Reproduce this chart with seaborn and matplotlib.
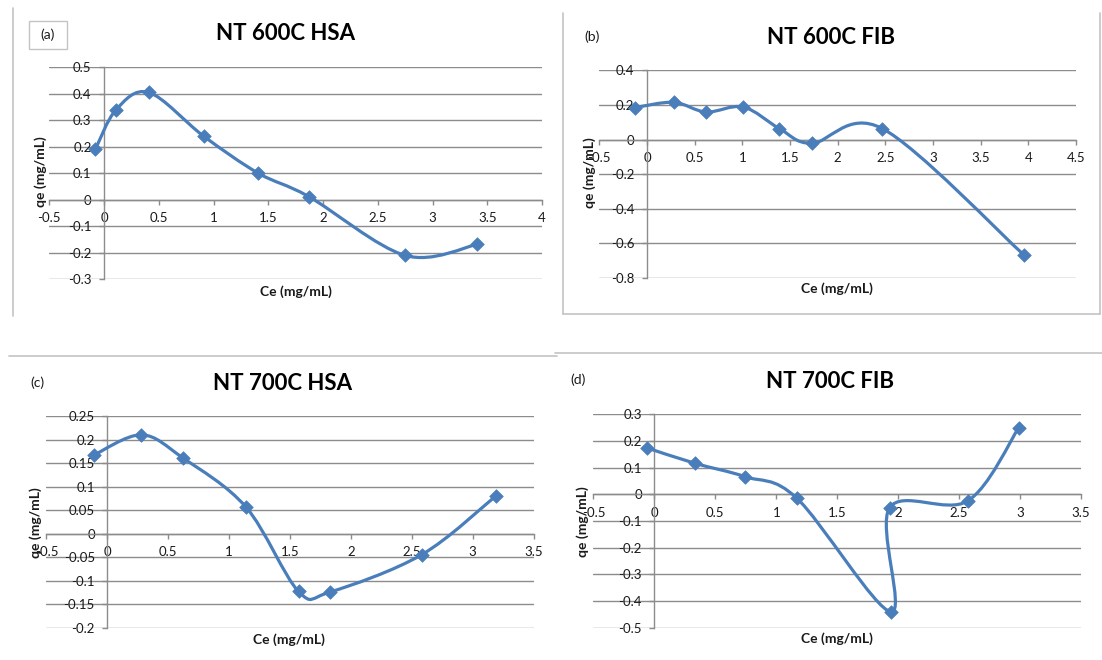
import numpy as np
import pandas as pd
import seaborn as sns
import matplotlib.pyplot as plt
from matplotlib.path import Path
from matplotlib.patches import PathPatch, Rectangle
from matplotlib.lines import Line2D
from matplotlib.ticker import MultipleLocator, FuncFormatter

# (a) NT 600C HSA
ce_600_hsa = [-0.08, 0.11, 0.41, 0.91, 1.41, 1.87, 2.75, 3.41]
qe_600_hsa = [0.19, 0.34, 0.405, 0.24, 0.10, 0.012, -0.21, -0.168]

# (b) NT 600C FIB
ce_600_fib = [-0.13, 0.28, 0.62, 1.01, 1.39, 1.73, 2.47, 3.95]
qe_600_fib = [0.184, 0.215, 0.159, 0.188, 0.063, -0.022, 0.063, -0.665]

# (c) NT 700C HSA
ce_700_hsa = [-0.11, 0.28, 0.62, 1.14, 1.57, 1.83, 2.58, 3.19]
qe_700_hsa = [0.167, 0.21, 0.161, 0.056, -0.123, -0.124, -0.045, 0.08]

# (d) NT 700C FIB
ce_700_fib = [-0.06, 0.335, 0.745, 1.17, 1.94, 1.93, 2.57, 2.99]
qe_700_fib = [0.174, 0.116, 0.066, -0.015, -0.44, -0.05, -0.025, 0.25]

titles = ["NT 600C HSA", "NT 600C FIB", "NT 700C HSA", "NT 700C FIB"]
tags = ["(a)", "(b)", "(c)", "(d)"]
x_limits = [(-0.5, 4), (-0.5, 4.5), (-0.5, 3.5), (-0.5, 3.5)]
y_limits = [(-0.3, 0.5), (-0.8, 0.4), (-0.2, 0.25), (-0.5, 0.3)]
y_steps = [0.1, 0.2, 0.05, 0.1]

W, H = 1102, 660
BLUE = "#4a7ebb"
GRID = "#8c8c8c"
FRAME = "#c4c4c4"

sns.set_theme(style="white")
plt.rcParams['font.family'] = ['Lato', 'DejaVu Sans']
plt.rcParams['axes.unicode_minus'] = False


def fx(px):
    return px / W


def fy(py):
    return 1 - py / H


def smooth_path(xs, ys):
    # excel style smoothed line: cubic bezier through the points
    p = np.column_stack([xs, ys])
    ext = np.vstack([p[0], p, p[-1]])
    verts = [p[0]]
    codes = [Path.MOVETO]
    for i in range(len(p) - 1):
        c1 = p[i] + (ext[i + 2] - ext[i]) / 6
        c2 = p[i + 1] - (ext[i + 3] - ext[i + 1]) / 6
        verts += [c1, c2, p[i + 1]]
        codes += [Path.CURVE4] * 3
    return Path(verts, codes)


fig = plt.figure(figsize=(W / 100, H / 100), dpi=100)
fig.patch.set_facecolor("white")

# plot areas in pixels: left, top, right, bottom
boxes = [(49.3, 67.3, 542.1, 279.3), (599.3, 70.3, 1076, 278),
         (46.4, 416, 533.6, 627.7), (593.4, 414.3, 1081, 627.7)]
title_pos = [(286, 34), (831, 38), (283, 383), (830, 382)]
tag_pos = [(48, 35), (592, 37), (37, 383), (578, 380)]
xlabel_pos = [(296, 292), (837, 289), (289, 640), (837, 639)]
ylabel_pos = [(41, 172), (590, 173), (36, 523), (583, 522)]

series = [(ce_600_hsa, qe_600_hsa), (ce_600_fib, qe_600_fib),
          (ce_700_hsa, qe_700_hsa), (ce_700_fib, qe_700_fib)]

fmt = FuncFormatter(lambda v, pos: "%g" % round(v, 4))

for k, (ce, qe) in enumerate(series):
    l, t, r, b = boxes[k]
    ax = fig.add_axes([fx(l), fy(b), fx(r) - fx(l), fy(t) - fy(b)])
    ax.set_facecolor("white")
    df = pd.DataFrame({"Ce": ce, "qe": qe})

    ax.set_xlim(*x_limits[k])
    ax.set_ylim(*y_limits[k])
    ax.xaxis.set_major_locator(MultipleLocator(0.5))
    ax.yaxis.set_major_locator(MultipleLocator(y_steps[k]))
    ax.xaxis.set_major_formatter(fmt)
    ax.yaxis.set_major_formatter(fmt)
    ax.grid(axis="y", color=GRID, lw=1)
    ax.grid(axis="x", visible=False)
    ax.set_axisbelow(True)

    for s in ["top", "right"]:
        ax.spines[s].set_visible(False)
    ax.spines["left"].set_position(("data", 0))
    ax.spines["bottom"].set_position(("data", 0))
    for s in ["left", "bottom"]:
        ax.spines[s].set_color(GRID)
        ax.spines[s].set_linewidth(1)
    ax.tick_params(axis="both", which="major", direction="out", length=3.5,
                   width=1, color=GRID, labelsize=9.5, labelcolor="#1a1a1a", pad=5.5)
    ax.tick_params(axis="x", bottom=True)
    ax.tick_params(axis="y", left=True)

    ax.add_patch(PathPatch(smooth_path(df["Ce"], df["qe"]), facecolor="none",
                           edgecolor=BLUE, lw=2.3, zorder=3, capstyle="round"))
    sns.scatterplot(data=df, x="Ce", y="qe", marker="D", s=48, color=BLUE,
                    edgecolor=BLUE, linewidth=0.5, zorder=4, ax=ax, legend=False)
    ax.set_xlabel("")
    ax.set_ylabel("")

    fig.text(fx(title_pos[k][0]), fy(title_pos[k][1]), titles[k], ha="center",
             va="center", fontsize=16, fontweight="bold", color="black")
    fig.text(fx(tag_pos[k][0]), fy(tag_pos[k][1]), tags[k], ha="center",
             va="center", fontsize=10, color="#1a1a1a")
    fig.text(fx(xlabel_pos[k][0]), fy(xlabel_pos[k][1]), "Ce (mg/mL)", ha="center",
             va="center", fontsize=10, fontweight="bold", color="#1a1a1a")
    fig.text(fx(ylabel_pos[k][0]), fy(ylabel_pos[k][1]), "qe (mg/mL)", ha="center",
             va="center", rotation=90, fontsize=10, fontweight="bold", color="#1a1a1a")

# box round the (a) tag
fig.add_artist(Rectangle((fx(29), fy(49)), fx(67) - fx(29), fy(21) - fy(49),
                         transform=fig.transFigure, facecolor="none",
                         edgecolor=FRAME, lw=1))

# frames and separators of the pasted charts
frame_lines = [
    ([12.5, 12.5], [8, 316]),
    ([562.7, 562.7], [13, 314]),
    ([562.7, 1100], [314, 314]),
    ([1100, 1100], [13, 314]),
    ([9, 557], [355.7, 355.7]),
    ([555, 1102], [353.3, 353.3]),
]
for xs, ys in frame_lines:
    fig.add_artist(Line2D([fx(v) for v in xs], [fy(v) for v in ys],
                          transform=fig.transFigure, color=FRAME, lw=1.2))

fig.savefig("out.png", dpi=100, facecolor="white")
